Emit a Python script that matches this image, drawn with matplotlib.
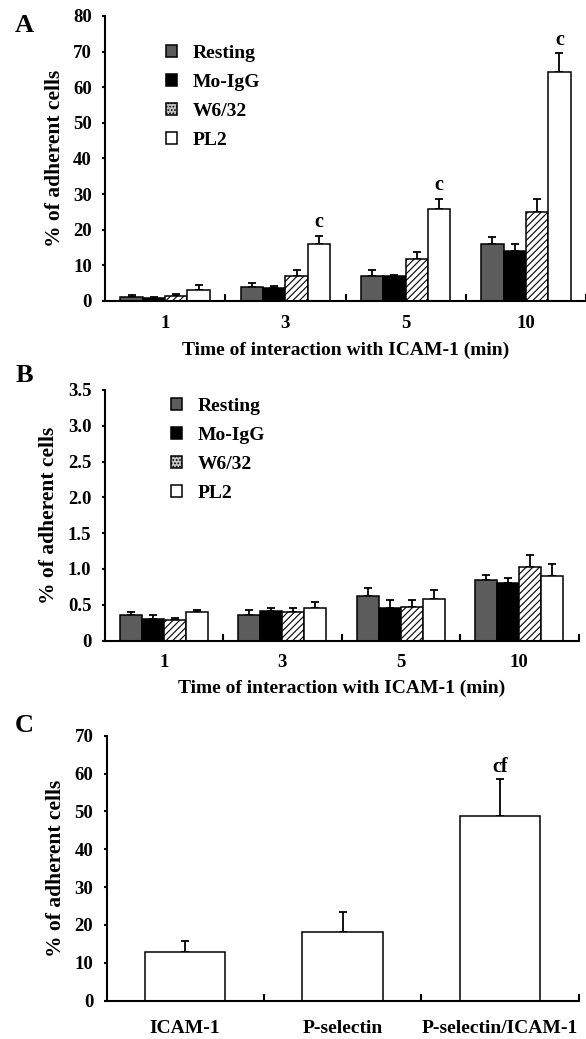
import numpy as np
import matplotlib
matplotlib.use("Agg")
import matplotlib.pyplot as plt
from matplotlib.patches import Patch

plt.rcParams['font.family'] = ['Liberation Serif', 'DejaVu Serif']
plt.rcParams['font.weight'] = 'bold'
plt.rcParams['hatch.linewidth'] = 0.8

# Panel A / B data: time points and groups
times = ['1', '3', '5', '10']
groups = ['Resting', 'Mo-IgG', 'W6/32', 'PL2']

a_mean = {'Resting': [1.0, 3.8, 6.9, 15.9],
          'Mo-IgG': [0.9, 3.6, 6.9, 14.0],
          'W6/32': [1.4, 6.9, 11.8, 24.9],
          'PL2': [3.1, 15.9, 25.7, 64.2]}
a_sem = {'Resting': [0.6, 1.3, 1.8, 2.0],
         'Mo-IgG': [0.2, 0.7, 0.4, 1.9],
         'W6/32': [0.5, 1.8, 2.0, 3.6],
         'PL2': [1.4, 2.3, 3.0, 5.3]}
a_marks = ['', 'c', 'c', 'c']   # above PL2 bars

b_mean = {'Resting': [0.36, 0.36, 0.62, 0.84],
          'Mo-IgG': [0.30, 0.41, 0.45, 0.80],
          'W6/32': [0.29, 0.40, 0.47, 1.02],
          'PL2': [0.40, 0.455, 0.585, 0.90]}
b_sem = {'Resting': [0.04, 0.06, 0.12, 0.07],
         'Mo-IgG': [0.05, 0.045, 0.11, 0.08],
         'W6/32': [0.02, 0.055, 0.09, 0.18],
         'PL2': [0.03, 0.085, 0.115, 0.17]}

# Panel C data
c_cats = ['ICAM-1', 'P-selectin', 'P-selectin/ICAM-1']
c_mean = [12.9, 18.1, 48.8]
c_sem = [2.7, 5.3, 9.7]
c_marks = ['', '', 'cf']

styles = {'Resting': dict(color='#5c5c5c', hatch=None),
          'Mo-IgG': dict(color='black', hatch=None),
          'W6/32': dict(color='white', hatch='/////'),
          'PL2': dict(color='white', hatch=None)}
# legend swatches (the W6/32 swatch looks like a grey stipple in the figure)
swatch = {'Resting': dict(facecolor='#5c5c5c'),
          'Mo-IgG': dict(facecolor='black'),
          'W6/32': dict(facecolor='#c4c4c4', hatch='.....'),
          'PL2': dict(facecolor='white')}

W, H = 586, 1039
fig = plt.figure(figsize=(W / 100, H / 100), dpi=100)


def px_axes(left, right, bottom, top):
    return fig.add_axes([left / W, 1 - bottom / H, (right - left) / W, (bottom - top) / H])


def style_axes(ax, n, ylim, yticks, yticklabels, xticklabels, xfs):
    for s in ['top', 'right']:
        ax.spines[s].set_visible(False)
    for s in ['left', 'bottom']:
        ax.spines[s].set_linewidth(1.5)
    ax.set_xlim(0, n)
    ax.set_ylim(*ylim)
    ax.set_yticks(yticks)
    ax.set_yticklabels(yticklabels, fontsize=13.5, fontweight='bold')
    ax.tick_params(axis='y', direction='out', length=2.5, width=1.5, pad=7)
    ax.set_xticks(np.arange(n) + 0.5)
    ax.set_xticklabels(xticklabels, fontsize=xfs, fontweight='bold')
    ax.tick_params(axis='x', which='major', length=0, pad=10)
    ax.set_xticks(np.arange(1, n + 1), minor=True)
    ax.tick_params(axis='x', which='minor', direction='in', length=4.8, width=1.5)
    ax.set_ylabel('% of adherent cells', fontsize=15.5, fontweight='bold', labelpad=6)


def grouped(ax, means, sems, marks=None, mark_off=10):
    bw = 0.186
    x0 = np.arange(len(times)) + 0.5 - 2 * bw
    for j, g in enumerate(groups):
        xs = x0 + (j + 0.5) * bw
        st = styles[g]
        ax.bar(xs, means[g], bw, color=st['color'], edgecolor='black',
               linewidth=1.1, hatch=st['hatch'], label=g, zorder=2)
        ax.errorbar(xs, means[g], yerr=[np.zeros(len(xs)), sems[g]], fmt='none',
                    ecolor='black', elinewidth=1.3, capsize=3.2, capthick=1.3, zorder=1)
        if marks is not None and g == 'PL2':
            for x, m, s, t in zip(xs, means[g], sems[g], marks):
                if t:
                    ax.annotate(t, (x, m + s), xytext=(0, mark_off), textcoords='offset points',
                                ha='center', va='center', fontsize=14.5, fontweight='bold')


def add_legend(ax, anchor):
    handles = [Patch(edgecolor='black', linewidth=1.1, label=g, **swatch[g]) for g in groups]
    ax.legend(handles=handles, loc='upper left', bbox_to_anchor=anchor,
              frameon=False, fontsize=14, handlelength=0.55, handleheight=0.55,
              handletextpad=0.8, labelspacing=0.62, borderpad=0, borderaxespad=0)


# ---------------- Panel A ----------------
axA = px_axes(105, 586, 301, 16)
grouped(axA, a_mean, a_sem, a_marks)
style_axes(axA, 4, (0, 80), np.arange(0, 81, 10), [str(v) for v in range(0, 81, 10)], times, 13.5)
axA.set_xlabel('Time of interaction with ICAM-1 (min)', fontsize=14, fontweight='bold', labelpad=7)
add_legend(axA, ((166 - 105) / 481, (301 - 45) / 285))

# ---------------- Panel B ----------------
axB = px_axes(104.5, 578.5, 640.5, 390)
grouped(axB, b_mean, b_sem)
bt = np.arange(0, 3.51, 0.5)
style_axes(axB, 4, (0, 3.5), bt, ['0'] + ['%.1f' % v for v in bt[1:]], times, 13.5)
axB.set_xlabel('Time of interaction with ICAM-1 (min)', fontsize=14, fontweight='bold', labelpad=6)
add_legend(axB, ((171 - 104.5) / 474, (640.5 - 398) / 250.5))

# ---------------- Panel C ----------------
axC = px_axes(106.5, 578.7, 1000.5, 735.7)
xc = np.arange(len(c_cats)) + 0.5
axC.bar(xc, c_mean, 0.51, color='white', edgecolor='black', linewidth=1.1, zorder=2)
axC.errorbar(xc, c_mean, yerr=[np.zeros(len(xc)), c_sem], fmt='none', ecolor='black',
             elinewidth=1.3, capsize=3.2, capthick=1.3, zorder=1)
for x, m, s, t in zip(xc, c_mean, c_sem, c_marks):
    if t:
        axC.annotate(t, (x, m + s), xytext=(0, 9), textcoords='offset points',
                     ha='center', va='center', fontsize=14.5, fontweight='bold')
style_axes(axC, 3, (0, 70), np.arange(0, 71, 10), [str(v) for v in range(0, 71, 10)], c_cats, 14)
axC.tick_params(axis='x', which='major', pad=14)

# panel letters
for lab, y in [('A', 25), ('B', 376), ('C', 726)]:
    fig.text(24 / W, 1 - y / H, lab, fontsize=19, fontweight='bold', ha='center', va='center')

fig.savefig('out.png', dpi=100)
